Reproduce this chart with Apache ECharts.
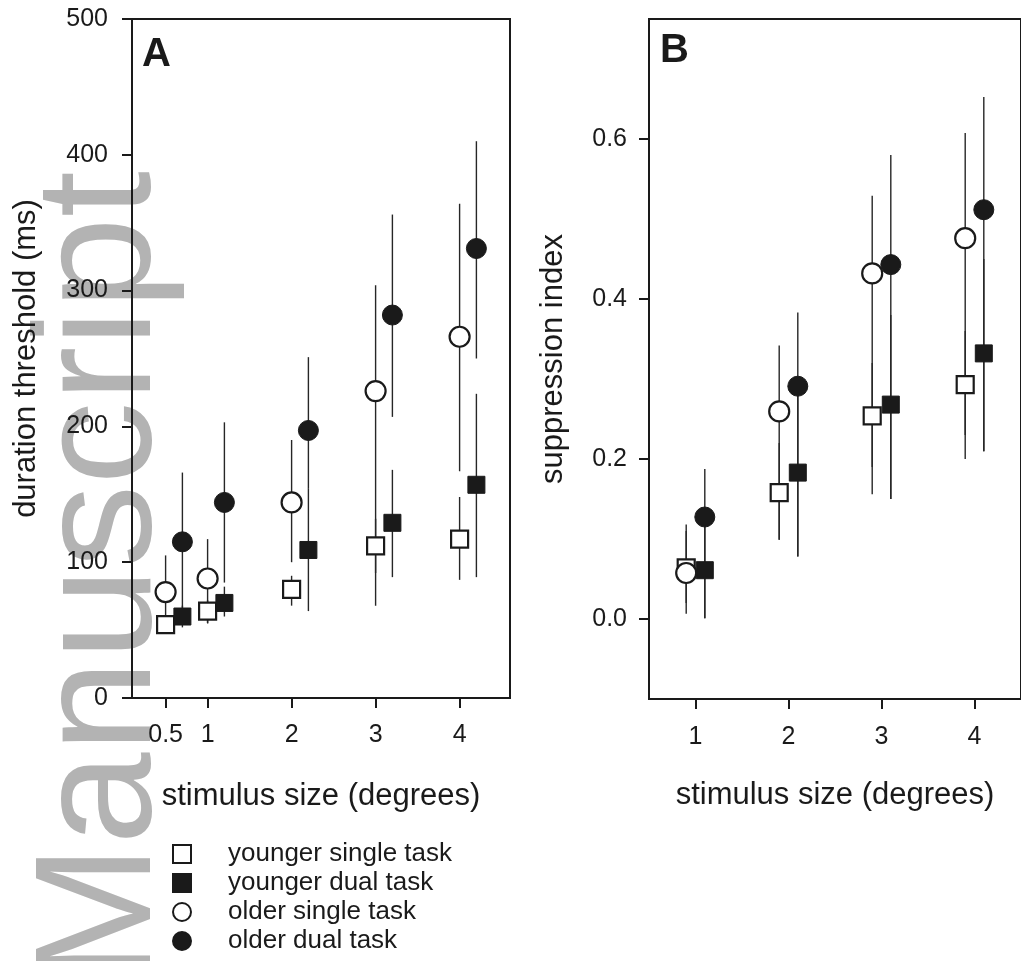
<!DOCTYPE html>
<html>
<head>
<meta charset="utf-8">
<script src="https://cdn.jsdelivr.net/npm/echarts@6/dist/echarts.min.js"></script>
<style>
html,body{margin:0;padding:0;background:#fff;}
#chart{width:1021px;height:961px;}
</style>
</head>
<body>
<div id="chart"></div>
<script>
// ---------- data ----------
const seriesNames = ['younger single task', 'younger dual task', 'older single task', 'older dual task'];

// Panel A: duration threshold (ms)
const sizesA = [0.5, 1, 2, 3, 4];
const youngerSingleA = [54, 64, 80, 112, 117];
const youngerSingleA_lo = [48, 55, 68, 92, 87];
const youngerSingleA_hi = [60, 72, 90, 132, 148];
const youngerDualA = [60, 70, 109, 129, 157];
const youngerDualA_lo = [52, 60, 64, 89, 89];
const youngerDualA_hi = [68, 82, 154, 168, 224];
const olderSingleA = [78, 88, 144, 226, 266];
const olderSingleA_lo = [50, 55, 100, 68, 167];
const olderSingleA_hi = [105, 117, 190, 304, 364];
const olderDualA = [115, 144, 197, 282, 331];
const olderDualA_lo = [58, 85, 154, 207, 250];
const olderDualA_hi = [166, 203, 251, 356, 410];

// Panel B: suppression index
const sizesB = [1, 2, 3, 4];
const youngerSingleB = [0.064, 0.158, 0.254, 0.293];
const youngerSingleB_lo = [0.02, 0.099, 0.19, 0.23];
const youngerSingleB_hi = [0.11, 0.22, 0.32, 0.36];
const youngerDualB = [0.061, 0.183, 0.268, 0.332];
const youngerDualB_lo = [0.001, 0.078, 0.15, 0.21];
const youngerDualB_hi = [0.12, 0.29, 0.38, 0.45];
const olderSingleB = [0.0575, 0.2595, 0.432, 0.476];
const olderSingleB_lo = [0.0066, 0.099, 0.156, 0.200];
const olderSingleB_hi = [0.118, 0.342, 0.529, 0.6075];
const olderDualB = [0.1275, 0.291, 0.443, 0.5116];
const olderDualB_lo = [0.001, 0.078, 0.150, 0.2095];
const olderDualB_hi = [0.1875, 0.383, 0.580, 0.6525];

// tick labels
const xTicksA = [0.5, 1, 2, 3, 4];
const xTicksB = [1, 2, 3, 4];
const yTicksB = [0.0, 0.2, 0.4, 0.6];

// ---------- style ----------
const INK = '#1a1a1a';
const FONT = '"Liberation Sans", Arial, sans-serif';
const offsetsA = { single: 0, dual: 0.2 };
const offsetsB = { single: -0.1, dual: 0.1 };

function pts(xs, ys, off) { return xs.map((x, i) => [x + off, ys[i]]); }
function bars(xs, lo, hi, off) { return xs.map((x, i) => [x + off, lo[i], hi[i]]); }

function errRender(params, api) {
  const x = api.value(0), lo = api.value(1), hi = api.value(2);
  const p1 = api.coord([x, lo]);
  const p2 = api.coord([x, hi]);
  return {
    type: 'line',
    shape: { x1: p1[0], y1: p1[1], x2: p2[0], y2: p2[1] },
    style: { stroke: '#262626', lineWidth: 1.4 }
  };
}

const openStyle = { color: '#ffffff', borderColor: INK, borderWidth: 2.2, opacity: 1 };
const filledStyle = { color: INK, borderColor: INK, borderWidth: 1, opacity: 1 };
const symbolDefs = [
  { symbol: 'rect', size: 17, style: openStyle },
  { symbol: 'rect', size: 17, style: filledStyle },
  { symbol: 'circle', size: 20, style: openStyle },
  { symbol: 'circle', size: 20, style: filledStyle }
];

const panelA = [
  { v: youngerSingleA, lo: youngerSingleA_lo, hi: youngerSingleA_hi, off: offsetsA.single },
  { v: youngerDualA, lo: youngerDualA_lo, hi: youngerDualA_hi, off: offsetsA.dual },
  { v: olderSingleA, lo: olderSingleA_lo, hi: olderSingleA_hi, off: offsetsA.single },
  { v: olderDualA, lo: olderDualA_lo, hi: olderDualA_hi, off: offsetsA.dual }
];
const panelB = [
  { v: youngerSingleB, lo: youngerSingleB_lo, hi: youngerSingleB_hi, off: offsetsB.single },
  { v: youngerDualB, lo: youngerDualB_lo, hi: youngerDualB_hi, off: offsetsB.dual },
  { v: olderSingleB, lo: olderSingleB_lo, hi: olderSingleB_hi, off: offsetsB.single },
  { v: olderDualB, lo: olderDualB_lo, hi: olderDualB_hi, off: offsetsB.dual }
];

const series = [];
function addPanel(panel, xs, idx) {
  panel.forEach((p, i) => {
    series.push({
      type: 'custom', name: 'err' + idx + '_' + i,
      xAxisIndex: idx, yAxisIndex: idx,
      renderItem: errRender,
      encode: { x: 0, y: [1, 2] },
      data: bars(xs, p.lo, p.hi, p.off),
      z: 1, silent: true
    });
  });
  panel.forEach((p, i) => {
    const d = symbolDefs[i];
    series.push({
      type: 'scatter', name: seriesNames[i],
      xAxisIndex: idx, yAxisIndex: idx,
      symbol: d.symbol, symbolSize: d.size,
      itemStyle: d.style,
      emphasis: { disabled: true },
      data: pts(xs, p.v, p.off),
      z: 3 + i
    });
  });
}
addPanel(panelA, sizesA, 0);
addPanel(panelB, sizesB, 1);

const axisLineStyle = { color: INK, width: 2 };
const labelStyle = { color: INK, fontSize: 25, fontFamily: FONT };
const nameStyle = { color: INK, fontSize: 31, fontFamily: FONT };

const option = {
  animation: false,
  backgroundColor: '#ffffff',
  grid: [
    { left: 132, top: 19, width: 378, height: 679, show: true, borderColor: INK, borderWidth: 2, backgroundColor: 'transparent' },
    { left: 649, top: 19, width: 378, height: 680, show: true, borderColor: INK, borderWidth: 2, backgroundColor: 'transparent' }
  ],
  xAxis: [
    {
      type: 'value', gridIndex: 0, min: 0.1, max: 4.6,
      name: 'stimulus size (degrees)', nameLocation: 'middle', nameGap: 83, nameTextStyle: nameStyle,
      axisLine: { show: true, onZero: false, lineStyle: axisLineStyle },
      axisTick: { show: true, length: 10, lineStyle: axisLineStyle, customValues: xTicksA },
      axisLabel: { margin: 25, ...labelStyle, customValues: xTicksA },
      splitLine: { show: false }
    },
    {
      type: 'value', gridIndex: 1, min: 0.5, max: 4.5,
      name: 'stimulus size (degrees)', nameLocation: 'middle', nameGap: 81, nameTextStyle: nameStyle,
      axisLine: { show: true, onZero: false, lineStyle: axisLineStyle },
      axisTick: { show: true, length: 10, lineStyle: axisLineStyle, customValues: xTicksB },
      axisLabel: { margin: 26, ...labelStyle, customValues: xTicksB },
      splitLine: { show: false }
    }
  ],
  yAxis: [
    {
      type: 'value', gridIndex: 0, min: 0, max: 500, interval: 100,
      name: 'duration threshold (ms)', nameLocation: 'middle', nameGap: 90, nameTextStyle: nameStyle,
      axisLine: { show: true, onZero: false, lineStyle: axisLineStyle },
      axisTick: { show: true, length: 10, lineStyle: axisLineStyle },
      axisLabel: { margin: 24, ...labelStyle },
      splitLine: { show: false }
    },
    {
      type: 'value', gridIndex: 1, min: -0.1, max: 0.75,
      name: 'suppression index', nameLocation: 'middle', nameGap: 80, nameTextStyle: nameStyle,
      axisLine: { show: true, onZero: false, lineStyle: axisLineStyle },
      axisTick: { show: true, length: 10, lineStyle: axisLineStyle, customValues: yTicksB },
      axisLabel: { margin: 22, ...labelStyle, customValues: yTicksB, formatter: v => v.toFixed(1) },
      splitLine: { show: false }
    }
  ],
  legend: {
    data: seriesNames,
    orient: 'vertical',
    left: 172, top: 840,
    padding: 0,
    itemWidth: 18, itemHeight: 18,
    itemGap: 1,
    textStyle: { color: INK, fontSize: 26, fontFamily: FONT, lineHeight: 28, padding: [0, 0, 0, 32] },
    selectedMode: false
  },
  graphic: [
    {
      type: 'text', z: -10, silent: true,
      x: 104, y: 983, rotation: Math.PI / 2,
      style: { text: 'Manuscript', fill: '#b3b3b3', font: '166px ' + FONT, textAlign: 'left', textVerticalAlign: 'middle' }
    },
    {
      type: 'text', z: 10, x: 142, y: 35,
      style: { text: 'A', fill: INK, font: 'bold 40px ' + FONT, textAlign: 'left', textVerticalAlign: 'top' }
    },
    {
      type: 'text', z: 10, x: 660, y: 31,
      style: { text: 'B', fill: INK, font: 'bold 40px ' + FONT, textAlign: 'left', textVerticalAlign: 'top' }
    }
  ],
  series: series
};

const chart = echarts.init(document.getElementById('chart'), null, { renderer: 'canvas' });
chart.setOption(option);
</script>
</body>
</html>
